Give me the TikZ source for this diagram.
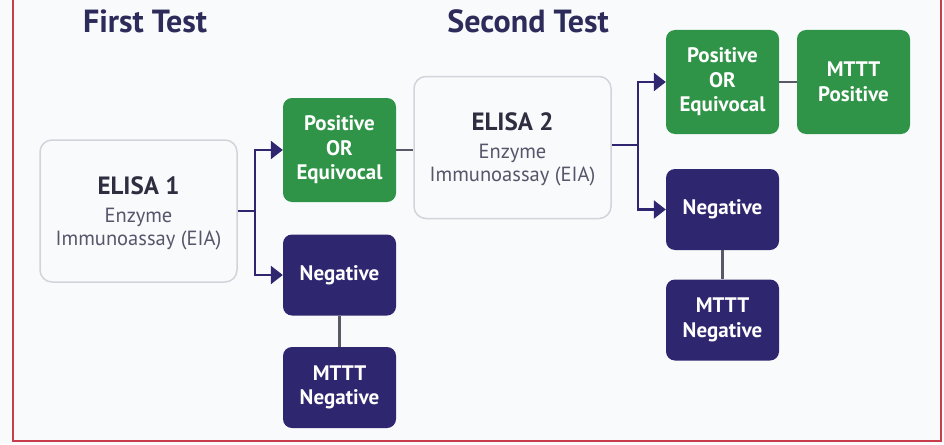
\documentclass[tikz,border=0pt]{standalone}
\usepackage{fontspec}
\setmainfont{PT Sans}
\usetikzlibrary{arrows.meta}
\definecolor{bg}{HTML}{F8FAFC}
\definecolor{navy}{HTML}{2F2670}
\definecolor{grn}{HTML}{2F9447}
\definecolor{ttl}{HTML}{2C2B5A}
\definecolor{dk}{HTML}{2E2E40}
\definecolor{gr}{HTML}{55566A}
\definecolor{bord}{HTML}{D2D4DC}
\definecolor{frame}{HTML}{C83C4C}
\begin{document}
\begin{tikzpicture}[x=1pt,y=-1pt,
  ttlstyle/.style={font=\bfseries\fontsize{32}{34}\selectfont, text=ttl},
  elisa/.style={draw=bord, line width=1.5pt, fill=bg, rounded corners=12pt, minimum width=197pt, minimum height=142pt, align=center, inner sep=0pt},
  etitle/.style={font=\bfseries\fontsize{25}{28}\selectfont, text=dk},
  esub/.style={font=\fontsize{20.5}{23.5}\selectfont, text=gr, align=center},
  gbox/.style={fill=grn, rounded corners=9pt, minimum width=113pt, minimum height=104pt, align=center, text=white, font=\bfseries\fontsize{21}{24.5}\selectfont, inner sep=0pt},
  nbox/.style={fill=navy, rounded corners=9pt, minimum width=113pt, minimum height=81pt, align=center, text=white, font=\bfseries\fontsize{21}{24.5}\selectfont, inner sep=0pt},
  conn/.style={draw=navy, line width=2.5pt},
  plain/.style={draw=dk!80, line width=2.5pt},
  arr/.style={conn, -{Triangle[length=12pt,width=18pt]}}
]
\fill[bg] (0,0) rectangle (944,444);
\useasboundingbox (0,0) rectangle (944,444);
\draw[frame, line width=1.2pt] (13,0) -- (13,441) -- (941,441) -- (941,0);

\node[ttlstyle] (t1) at (145,21) {First Test};
\node[ttlstyle] (t2) at (528,21) {Second Test};

\node[elisa] (e1) at (138.5,211) {};
\node[etitle] (e1a) at (138.5,186) {ELISA 1};
\node[esub] (e1b) at (138.5,229) {Enzyme\\Immunoassay (EIA)};

\node[gbox] (p1) at (339.5,150) {Positive\\OR\\Equivocal};
\node[nbox] (n1) at (339.5,275) {Negative};
\node[nbox] (m1) at (339.5,387.5) {MTTT\\Negative};

\node[elisa] (e2) at (512.5,147.5) {};
\node[etitle] (e2a) at (512.5,122) {ELISA 2};
\node[esub] (e2b) at (512.5,165) {Enzyme\\Immunoassay (EIA)};

\node[gbox] (p2) at (722.5,82) {Positive\\OR\\Equivocal};
\node[gbox] (mp) at (853.5,82) {MTTT\\Positive};
\node[nbox] (n2) at (722.5,209.5) {Negative};
\node[nbox] (m2) at (722.5,320) {MTTT\\Negative};

\coordinate (j1) at (255,211);
\draw[conn] (e1.east |- j1) -- (j1);
\draw[arr] (j1) |- (p1.west);
\draw[arr] (j1) |- (n1.west);
\draw[plain] (n1) -- (m1);
\draw[plain] (p1.east) -- (p1.east -| e2.west);

\coordinate (j2) at (638,145);
\draw[conn] (e2.east |- j2) -- (j2);
\draw[arr] (j2) |- (p2.west);
\draw[arr] (j2) |- (n2.west);
\draw[plain] (p2) -- (mp);
\draw[plain] (n2) -- (m2);
\end{tikzpicture}
\end{document}
